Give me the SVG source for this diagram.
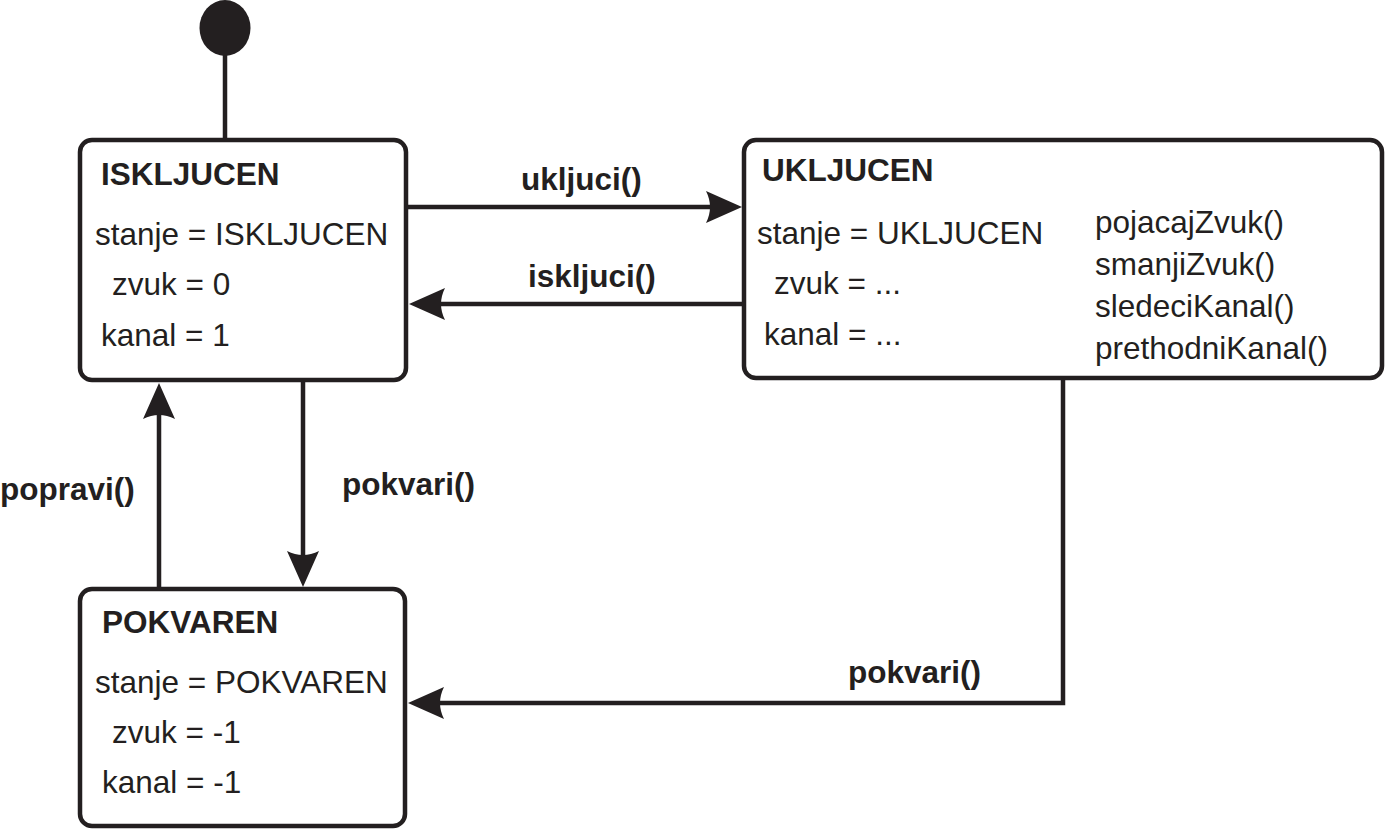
<svg xmlns="http://www.w3.org/2000/svg" width="1387" height="832" viewBox="0 0 1387 832">
<style>
.box{fill:#fff;stroke:#231f20;stroke-width:4.5}
.conn{fill:none;stroke:#231f20;stroke-width:4.5}
text{font-family:"Liberation Sans",Arial,Helvetica,sans-serif;fill:#231f20;font-size:31.5px}
.b{font-weight:bold}
</style>
<defs>
<marker id="arr" viewBox="0 0 36 32" refX="24" refY="16" markerWidth="36" markerHeight="32" markerUnits="userSpaceOnUse" orient="auto">
<path d="M36,16 L0,0 Q8,16 0,32 Z" fill="#231f20"/>
</marker>
</defs>
<rect width="1387" height="832" fill="#fff"/>
<g id="connectors">
<line class="conn" x1="225" y1="50" x2="225" y2="140"/>
<path class="conn" d="M406,207 H730" marker-end="url(#arr)"/>
<path class="conn" d="M744,304 H421" marker-end="url(#arr)"/>
<path class="conn" d="M159,589 V395" marker-end="url(#arr)"/>
<path class="conn" d="M303,381 V575" marker-end="url(#arr)"/>
<path class="conn" d="M1063,378 V703 H420" marker-end="url(#arr)"/>
<text class="b" x="521" y="190">ukljuci()</text>
<text class="b" x="528" y="287">iskljuci()</text>
<text class="b" x="0" y="500">popravi()</text>
<text class="b" x="342" y="495">pokvari()</text>
<text class="b" x="848" y="683">pokvari()</text>
</g>
<g id="initial">
<ellipse cx="225" cy="28" rx="25.5" ry="28" fill="#231f20"/>
</g>
<g id="iskljucen">
<rect class="box" x="80" y="140" width="326" height="240" rx="12"/>
<text class="b" x="101" y="185">ISKLJUCEN</text>
<text x="95" y="245">stanje = ISKLJUCEN</text>
<text x="112" y="295">zvuk = 0</text>
<text x="101" y="346">kanal = 1</text>
</g>
<g id="ukljucen">
<rect class="box" x="744" y="140" width="638" height="238" rx="12"/>
<text class="b" x="762" y="181">UKLJUCEN</text>
<text x="757" y="244">stanje = UKLJUCEN</text>
<text x="774" y="294">zvuk = ...</text>
<text x="764" y="345">kanal = ...</text>
<text x="1095" y="233">pojacajZvuk()</text>
<text x="1095" y="275">smanjiZvuk()</text>
<text x="1095" y="317">sledeciKanal()</text>
<text x="1095" y="359">prethodniKanal()</text>
</g>
<g id="pokvaren">
<rect class="box" x="80" y="589" width="325" height="237" rx="12"/>
<text class="b" x="102" y="633">POKVAREN</text>
<text x="95" y="693">stanje = POKVAREN</text>
<text x="112" y="743">zvuk = -1</text>
<text x="102" y="793">kanal = -1</text>
</g>
</svg>
